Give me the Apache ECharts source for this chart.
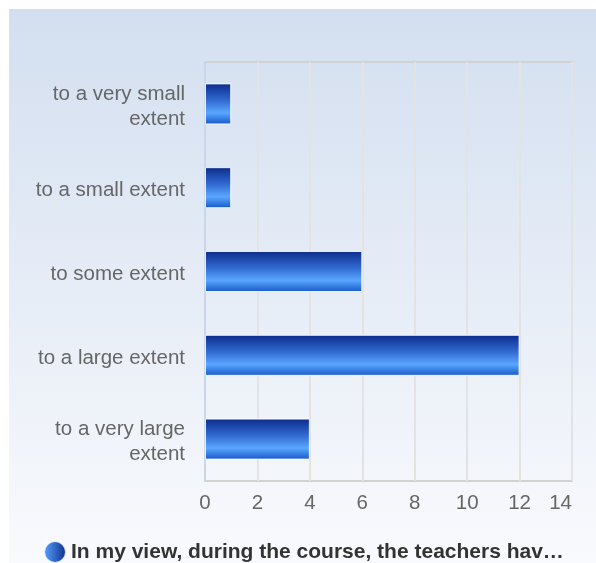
<!DOCTYPE html>
<html><head><meta charset="utf-8">
<script src="https://cdn.jsdelivr.net/npm/echarts@6/dist/echarts.min.js"></script>
<style>html,body{margin:0;padding:0;background:#fff;}#c{width:596px;height:563px;}</style>
</head><body><div id="c"></div>
<script>
const categories = ["to a very small\nextent", "to a small extent", "to some extent", "to a large extent", "to a very large\nextent"];
const values = [1, 1, 6, 12, 4];
const xTicks = [0, 2, 4, 6, 8, 10, 12, 14];
const seriesName = "In my view, during the course, the teachers hav\u2026";

const chart = echarts.init(document.getElementById('c'), null, {renderer: 'canvas'});
const barGrad = new echarts.graphic.LinearGradient(0, 0, 0, 1, [
  {offset: 0, color: '#0b2b8c'},
  {offset: 0.4, color: '#2f68cf'},
  {offset: 0.72, color: '#5aa6ff'},
  {offset: 1, color: '#1658c8'}
]);
const FONT = 'Liberation Sans, Arial, sans-serif';
chart.setOption({
  animation: false,
  graphic: [{
    type: 'rect', left: 9, top: 9, z: -10, silent: true,
    shape: {width: 587, height: 554},
    style: {fill: new echarts.graphic.LinearGradient(0, 0, 0, 1, [
      {offset: 0, color: '#d3dff0'},
      {offset: 1, color: '#f9fafd'}
    ])}
  }],
  grid: {left: 205, right: 24, top: 62, bottom: 82, show: true, borderColor: '#d2d2d2', borderWidth: 2, backgroundColor: 'transparent'},
  xAxis: {
    type: 'value', min: xTicks[0], max: xTicks[xTicks.length - 1], interval: 2,
    axisLine: {show: false}, axisTick: {show: false},
    splitLine: {show: true, lineStyle: {color: '#e3e3e3', width: 2}},
    axisLabel: {color: '#666', fontSize: 20.5, fontFamily: FONT, margin: 12, alignMaxLabel: 'right'}
  },
  yAxis: {
    type: 'category', data: categories, inverse: true,
    axisLine: {show: true, lineStyle: {color: '#c8d5ea', width: 2}},
    axisTick: {show: false}, splitLine: {show: false},
    axisLabel: {
      margin: 20, align: 'right',
      formatter: v => '{s| }\n' + v.split('\n').map(l => '{t|' + l + '}').join('\n'),
      rich: {
        s: {fontSize: 2, lineHeight: 6, color: 'rgba(0,0,0,0)'},
        t: {color: '#666', fontSize: 20.5, lineHeight: 25, fontFamily: FONT, align: 'right'}
      }
    }
  },
  legend: {
    left: 38, top: 535, itemWidth: 22, itemHeight: 22, icon: 'circle', itemGap: 6,
    textStyle: {color: '#333', fontSize: 21, fontWeight: 'bold', fontFamily: FONT},
    itemStyle: {color: new echarts.graphic.LinearGradient(0, 0, 1, 0, [
      {offset: 0, color: '#5aa6ff'}, {offset: 1, color: '#0b2b8c'}
    ])},
    data: [seriesName]
  },
  series: [{
    name: seriesName, type: 'bar', data: values, barWidth: 41,
    itemStyle: {color: barGrad, borderColor: 'rgba(255,255,255,0.85)', borderWidth: 1}
  }]
});
</script></body></html>
